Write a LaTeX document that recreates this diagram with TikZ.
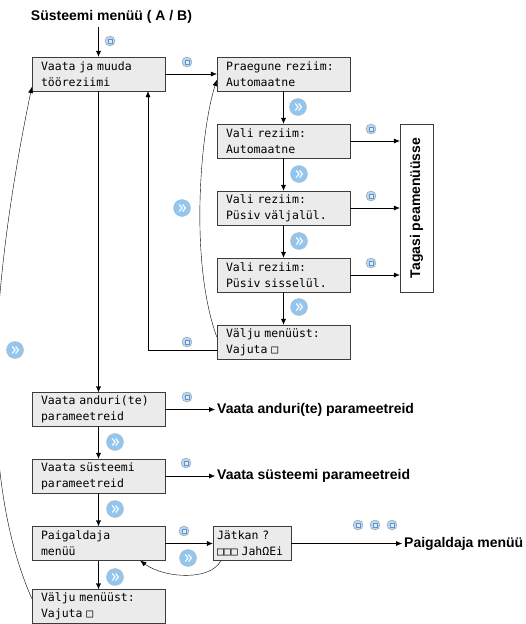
\documentclass[tikz,border=0pt]{standalone}
\usepackage{fontspec}
\setmainfont{Liberation Sans}
\newfontfamily\lcdfont{DejaVu Sans Mono}
\usetikzlibrary{arrows.meta}

\definecolor{boxfill}{HTML}{EBEBEB}
\definecolor{boxline}{HTML}{3C3C3C}
\definecolor{keyfill}{HTML}{BBD6F0}
\definecolor{keyring}{HTML}{8C9AA8}
\definecolor{keymark}{HTML}{5E93CB}
\definecolor{nextfill}{HTML}{93C6EE}

\begin{document}
\begin{tikzpicture}[x=1pt, y=-1pt, >={Latex[length=6pt,width=5pt]},
    lcdbox/.style={draw=boxline, fill=boxfill, font=\lcdfont\fontsize{11.5}{16}\selectfont,
        align=left, text width=#1, inner xsep=9pt, minimum height=34pt},
    lcdbox/.default=115pt,
    outtext/.style={font=\bfseries\fontsize{14}{16}\selectfont, anchor=west, inner sep=2pt},
    okkey/.style={circle, draw=keyring, fill=keyfill, minimum size=10pt, inner sep=0pt,
        path picture={\draw[keymark, fill=white!55!keyfill, line width=0.6pt]
            ([shift={(-2pt,-2pt)}]path picture bounding box.center) rectangle
            ([shift={(2pt,2pt)}]path picture bounding box.center);}},
    nextkey/.style={circle, draw=keyring!70, fill=nextfill, minimum size=17pt, inner sep=0pt,
        path picture={
            \draw[white, line width=1.1pt]
                ([shift={(-2.8pt,3.5pt)}]path picture bounding box.center) --
                ([shift={(0pt,0pt)}]path picture bounding box.center) --
                ([shift={(-2.8pt,-3.5pt)}]path picture bounding box.center);
            \draw[white, line width=1.1pt]
                ([shift={(0.6pt,3.5pt)}]path picture bounding box.center) --
                ([shift={(3.4pt,0pt)}]path picture bounding box.center) --
                ([shift={(0.6pt,-3.5pt)}]path picture bounding box.center);}}]
    \useasboundingbox (0,0) rectangle (526,624);

    % --- 1. Tooreziimi valik ---
    \node[font=\bfseries\fontsize{14}{16}\selectfont] (title) at (111.5,17) {Süsteemi menüü ( A / B)};
    \node[lcdbox] (mode) at (98.5,74) {Vaata ja muuda\\tööreziimi};
    \node[lcdbox] (cur) at (283.5,74) {Praegune reziim:\\Automaatne};
    \node[lcdbox] (selA) at (283.5,141) {Vali reziim:\\Automaatne};
    \node[lcdbox] (selO) at (283.5,208) {Vali reziim:\\Püsiv väljalül.};
    \node[lcdbox] (selI) at (283.5,275) {Vali reziim:\\Püsiv sisselül.};
    \node[lcdbox] (exitA) at (283.5,342) {Välju menüüst:\\Vajuta □};
    \node[draw=boxline, fill=white, rotate=90, minimum width=168pt, minimum height=33pt,
        font=\bfseries\fontsize{14}{16}\selectfont] (back) at (416.5,208) {Tagasi peamenüüsse};

    \draw[->] (title.south -| mode.north) -- (mode.north);
    \draw[->] (mode) -- (cur);
    \draw[->] (cur) -- (selA);
    \draw[->] (selA) -- (selO);
    \draw[->] (selO) -- (selI);
    \draw[->] (selI) -- (exitA);
    \draw[->] (selA.east) -- (selA.east -| back.north);
    \draw[->] (selO.east) -- (selO.east -| back.north);
    \draw[->] (selI.east) -- (selI.east -| back.north);
    \draw[->] ([yshift=-8pt]exitA.west) -| ([xshift=49.5pt]mode.south);
    \draw[->] ([yshift=5pt]exitA.west) .. controls +(-28,-77) and +(-16,50) .. ([yshift=-6pt]cur.west);

    % --- 2. Parameetrid ja paigaldaja ---
    \node[lcdbox] (sensor) at (98.5,409.5) {Vaata anduri(te)\\parameetreid};
    \node[lcdbox] (system) at (98.5,476) {Vaata süsteemi\\parameetreid};
    \node[lcdbox] (inst) at (98.5,543.5) {Paigaldaja\\menüü};
    \node[lcdbox=70pt, inner xsep=4pt] (cont) at (252,543.5) {Jätkan ?\\□□□ JahΩEi};
    \node[lcdbox] (exitB) at (98.5,606.5) {Välju menüüst:\\Vajuta □};
    \node[outtext] (sensorL) at (215,409.5) {Vaata anduri(te) parameetreid};
    \node[outtext] (systemL) at (215,476) {Vaata süsteemi parameetreid};
    \node[outtext] (instL) at (402,543.5) {Paigaldaja menüü};

    \draw[->] (mode) -- (sensor);
    \draw[->] (sensor) -- (system);
    \draw[->] (system) -- (inst);
    \draw[->] (inst) -- (exitB);
    \draw[->] (sensor.east) -- (sensorL.west);
    \draw[->] (system.east) -- (systemL.west);
    \draw[->] (inst) -- (cont);
    \draw[->] (cont.east) -- (instL.west);
    \draw[->] ([xshift=8pt]cont.south west) .. controls +(-10,20) and +(25,18) .. ([xshift=-25pt]inst.south east);
    \draw[->] ([yshift=8pt]exitB.west) .. controls +(-52,-118) and +(-44,213) .. ([yshift=-13pt]mode.west);

    % --- 3. Klahvid ---
    \foreach \kx/\ky [count=\i] in {110/41, 187/62, 371/129, 371/196, 371/263, 187/342,
        187/397, 186/463, 184/531, 358/525, 375/525, 392/525}
        \node[okkey] (ok\i) at (\kx,\ky) {};
    \foreach \nx/\ny [count=\i] in {298/107, 299/174, 299/241, 299/307, 182/208, 15/350,
        115/442, 115/509, 188/558, 115/577}
        \node[nextkey] (nx\i) at (\nx,\ny) {};
\end{tikzpicture}
\end{document}
